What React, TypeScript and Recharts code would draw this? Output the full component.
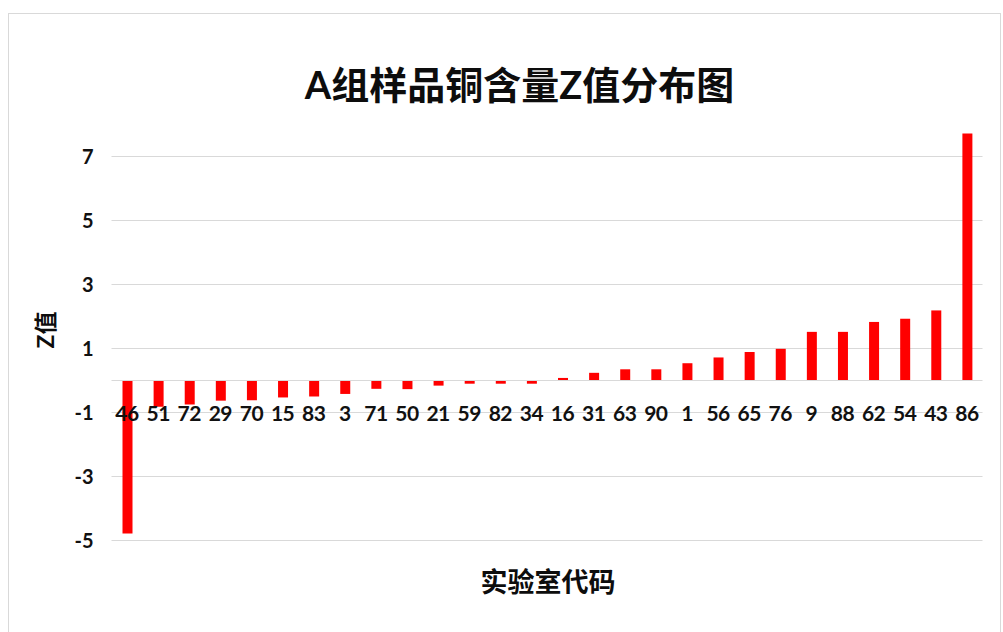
import React from "react";
import {
  BarChart,
  Bar,
  XAxis,
  YAxis,
  CartesianGrid,
  ReferenceLine,
} from "recharts";

// Laboratory codes, sorted by Z score
const labCodes = [
  "46", "51", "72", "29", "70", "15", "83", "3", "71", "50", "21", "59", "82", "34",
  "16", "31", "63", "90", "1", "56", "65", "76", "9", "88", "62", "54", "43", "86",
];

// Z score of the copper content for each laboratory
const zScores = [
  -4.78, -0.82, -0.75, -0.63, -0.62, -0.53, -0.5, -0.42, -0.26, -0.27, -0.16, -0.1, -0.1, -0.1,
  0.08, 0.24, 0.35, 0.35, 0.54, 0.72, 0.89, 0.99, 1.52, 1.52, 1.83, 1.93, 2.19, 7.72,
];

const yTicks = [-5, -3, -1, 1, 3, 5, 7];
const Y_MIN = -5;
const Y_MAX = 8;

const data = labCodes.map((code, i) => ({ code, z: zScores[i] }));

const WIDTH = 1003;
const HEIGHT = 632;
const MARGIN_TOP = 124.5;
const X_AXIS_HEIGHT = 20;
const MARGIN_BOTTOM = 91.5 - X_AXIS_HEIGHT;
const Y_AXIS_WIDTH = 111.5;
const PLOT_HEIGHT = HEIGHT - MARGIN_TOP - MARGIN_BOTTOM - X_AXIS_HEIGHT;
const PX_PER_UNIT = PLOT_HEIGHT / (Y_MAX - Y_MIN);
// category labels sit on the -1 level of the value axis
const LABEL_LEVEL = -1;

const NUM_FONT = "Lato, 'Noto Sans CJK SC', sans-serif";
const CJK_FONT = "'Noto Sans CJK SC', Lato, sans-serif";

const CategoryTick = (props: any) => {
  const { x, y, payload } = props;
  const lift = (LABEL_LEVEL - Y_MIN) * PX_PER_UNIT;
  return (
    <text
      x={x}
      y={y - lift}
      textAnchor="middle"
      dominantBaseline="central"
      fontFamily={NUM_FONT}
      fontWeight={700}
      fontSize={21}
      letterSpacing={-0.5}
      fill="#111"
    >
      {payload.value}
    </text>
  );
};

export default function App() {
  return (
    <div
      style={{
        position: "absolute",
        left: 0,
        top: 0,
        width: WIDTH,
        height: HEIGHT,
        overflow: "hidden",
        background: "#fff",
      }}
    >
      <div
        style={{
          position: "absolute",
          left: 8,
          top: 13,
          width: 993,
          height: 700,
          border: "1px solid #d9d9d9",
          boxSizing: "border-box",
        }}
      />
      <div
        style={{
          position: "absolute",
          left: 0,
          top: 0,
          width: WIDTH,
          height: HEIGHT,
        }}
      >
        <BarChart
          width={WIDTH}
          height={HEIGHT}
          data={data}
          margin={{ top: MARGIN_TOP, right: 20.5, bottom: MARGIN_BOTTOM, left: 0 }}
        >
          <CartesianGrid
            vertical={false}
            horizontalValues={yTicks}
            stroke="#d9d9d9"
            strokeWidth={1}
          />
          <XAxis
            dataKey="code"
            height={X_AXIS_HEIGHT}
            axisLine={false}
            tickLine={false}
            tickSize={0}
            tickMargin={0}
            interval={0}
            tick={<CategoryTick />}
          />
          <YAxis
            width={Y_AXIS_WIDTH}
            domain={[Y_MIN, Y_MAX]}
            ticks={yTicks}
            axisLine={false}
            tickLine={false}
            tickSize={0}
            tickMargin={18}
            tick={{
              fontFamily: NUM_FONT,
              fontWeight: 700,
              fontSize: 20,
              fill: "#111",
            }}
          />
          <ReferenceLine y={0} stroke="#d9d9d9" strokeWidth={1} />
          <Bar dataKey="z" fill="#ff0000" barSize={10} isAnimationActive={false} />
        </BarChart>
      </div>
      <div
        style={{
          position: "absolute",
          left: 0,
          width: WIDTH,
          top: 61,
          textAlign: "center",
          paddingLeft: 36,
          boxSizing: "border-box",
          fontFamily: NUM_FONT,
          fontWeight: 700,
          fontSize: 38,
          lineHeight: "46px",
          color: "#0d0d0d",
        }}
      >
        A组样品铜含量Z值分布图
      </div>
      <div
        style={{
          position: "absolute",
          left: 448,
          width: 200,
          top: 564,
          textAlign: "center",
          fontFamily: CJK_FONT,
          fontWeight: 700,
          fontSize: 27,
          lineHeight: "34px",
          color: "#0d0d0d",
        }}
      >
        实验室代码
      </div>
      <div
        style={{
          position: "absolute",
          left: 45 - 40,
          top: 330 - 16,
          width: 80,
          height: 32,
          lineHeight: "32px",
          textAlign: "center",
          transform: "rotate(-90deg)",
          fontFamily: NUM_FONT,
          fontWeight: 700,
          fontSize: 23,
          color: "#0d0d0d",
        }}
      >
        Z值
      </div>
    </div>
  );
}
